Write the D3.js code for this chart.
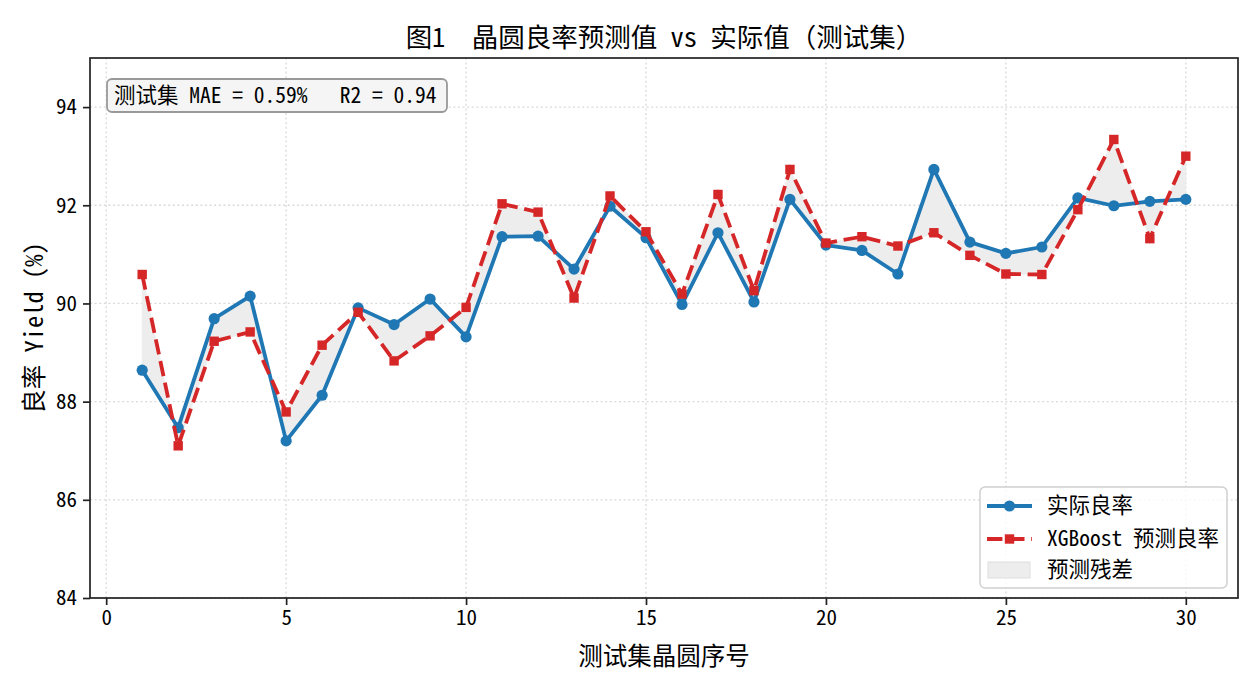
<!DOCTYPE html>
<html lang="zh">
<head>
<meta charset="utf-8">
<script src="https://cdn.jsdelivr.net/npm/d3@7"></script>
<style>
    body { margin: 0; background: #fff; }
    svg text {
        font-family: "Noto Sans Mono CJK SC", "DejaVu Sans Mono", "Noto Sans CJK SC", sans-serif;
        fill: #000;
        white-space: pre;
    }
    .grid line { stroke: #d9d9d9; stroke-width: 1.3; stroke-dasharray: 2,2.6; }
    .axis path, .axis line { stroke: #222; stroke-width: 1.7; }
    .axis text { font-size: 21px; }
</style>
</head>
<body>
<div id="chart"></div>
<script>

    // test set wafer index
    var wafers = d3.range(1, 31);
    // actual yield (%)
    var actualYield = [88.64, 87.47, 89.69, 90.15, 87.20, 88.13, 89.91, 89.57, 90.09, 89.32,
                       91.36, 91.37, 90.70, 91.98, 91.34, 89.98, 91.44, 90.03, 92.12, 91.19,
                       91.08, 90.60, 92.73, 91.25, 91.02, 91.15, 92.15, 91.99, 92.08, 92.12];
    // XGBoost predicted yield (%)
    var predYield = [90.59, 87.10, 89.23, 89.42, 87.79, 89.15, 89.82, 88.83, 89.34, 89.92,
                     92.03, 91.86, 90.11, 92.19, 91.46, 90.19, 92.22, 90.26, 92.73, 91.23,
                     91.36, 91.17, 91.44, 90.98, 90.60, 90.59, 91.91, 93.34, 91.32, 93.00];
    var xTicks = [0, 5, 10, 15, 20, 25, 30];
    var yTicks = [84, 86, 88, 90, 92, 94];
    var legendLabels = ["实际良率", "XGBoost 预测良率", "预测残差"];

    var W = 1260, H = 690;
    var margin = {top: 58, right: 22, bottom: 92, left: 90};
    var blue = "#1f77b4", red = "#d62728";

    var data = wafers.map(function (d, i) {
        return {i: d, actual: actualYield[i], pred: predYield[i]};
    });

    var svg = d3.select("#chart").append("svg")
        .attr("width", W)
        .attr("height", H);

    var x = d3.scaleLinear()
        .domain([-0.45, 31.45])
        .range([margin.left, W - margin.right]);

    var y = d3.scaleLinear()
        .domain([84, 95])
        .range([H - margin.bottom, margin.top]);

    // grid
    var grid = svg.append("g").attr("class", "grid");
    grid.selectAll(".gx").data(xTicks).enter().append("line")
        .attr("x1", function (d) { return x(d); })
        .attr("x2", function (d) { return x(d); })
        .attr("y1", y.range()[0])
        .attr("y2", y.range()[1]);
    grid.selectAll(".gy").data(yTicks).enter().append("line")
        .attr("x1", x.range()[0])
        .attr("x2", x.range()[1])
        .attr("y1", function (d) { return y(d); })
        .attr("y2", function (d) { return y(d); });

    // residual band
    var area = d3.area()
        .x(function (d) { return x(d.i); })
        .y0(function (d) { return y(d.actual); })
        .y1(function (d) { return y(d.pred); });

    svg.append("path")
        .datum(data)
        .attr("d", area)
        .attr("fill", "#ededed")
        .attr("stroke", "#ededed")
        .attr("stroke-width", 0.8);

    // actual line
    var lineActual = d3.line()
        .x(function (d) { return x(d.i); })
        .y(function (d) { return y(d.actual); });

    svg.append("path")
        .datum(data)
        .attr("d", lineActual)
        .attr("fill", "none")
        .attr("stroke", blue)
        .attr("stroke-width", 3.8)
        .attr("stroke-linejoin", "round");

    svg.selectAll(".dot")
        .data(data)
        .enter().append("circle")
        .attr("class", "dot")
        .attr("cx", function (d) { return x(d.i); })
        .attr("cy", function (d) { return y(d.actual); })
        .attr("r", 5.6)
        .attr("fill", blue);

    // predicted line
    var linePred = d3.line()
        .x(function (d) { return x(d.i); })
        .y(function (d) { return y(d.pred); });

    svg.append("path")
        .datum(data)
        .attr("d", linePred)
        .attr("fill", "none")
        .attr("stroke", red)
        .attr("stroke-width", 3.8)
        .attr("stroke-dasharray", "15.4,6.7");

    var sq = 9.4;
    svg.selectAll(".sq")
        .data(data)
        .enter().append("rect")
        .attr("class", "sq")
        .attr("x", function (d) { return x(d.i) - sq / 2; })
        .attr("y", function (d) { return y(d.pred) - sq / 2; })
        .attr("width", sq)
        .attr("height", sq)
        .attr("fill", red);

    // axes
    var xAxis = d3.axisBottom(x).tickValues(xTicks).tickSizeOuter(0).tickSize(7).tickPadding(5);
    var yAxis = d3.axisLeft(y).tickValues(yTicks).tickSizeOuter(0).tickSize(7).tickPadding(6);

    svg.append("g")
        .attr("class", "axis x")
        .attr("transform", "translate(0," + y.range()[0] + ")")
        .call(xAxis)
        .select(".domain").remove();

    svg.append("g")
        .attr("class", "axis y")
        .attr("transform", "translate(" + x.range()[0] + ",0)")
        .call(yAxis)
        .select(".domain").remove();

    // frame
    svg.append("rect")
        .attr("x", x.range()[0])
        .attr("y", y.range()[1])
        .attr("width", x.range()[1] - x.range()[0])
        .attr("height", y.range()[0] - y.range()[1])
        .attr("fill", "none")
        .attr("stroke", "#222")
        .attr("stroke-width", 1.7);

    // title and labels
    svg.append("text")
        .attr("x", (x.range()[0] + x.range()[1]) / 2)
        .attr("y", 47)
        .attr("text-anchor", "middle")
        .style("font-size", "26.5px")
        .text("图1  晶圆良率预测值 vs 实际值（测试集）");

    svg.append("text")
        .attr("x", (x.range()[0] + x.range()[1]) / 2)
        .attr("y", 665)
        .attr("text-anchor", "middle")
        .style("font-size", "24.5px")
        .text("测试集晶圆序号");

    svg.append("text")
        .attr("transform", "translate(43," + (y.range()[0] + y.range()[1]) / 2 + ") rotate(-90)")
        .attr("text-anchor", "middle")
        .style("font-size", "24.5px")
        .text("良率 Yield (%)");

    // metrics box
    var info = svg.append("g").attr("transform", "translate(107,79)");
    info.append("rect")
        .attr("width", 340)
        .attr("height", 33)
        .attr("rx", 5)
        .attr("fill", "#f5f5f5")
        .attr("stroke", "#999")
        .attr("stroke-width", 1.8);
    info.append("text")
        .attr("x", 7)
        .attr("y", 24)
        .style("font-size", "21.5px")
        .text("测试集 MAE = 0.59%   R2 = 0.94");

    // legend
    var lg = svg.append("g").attr("transform", "translate(980,487)");
    lg.append("rect")
        .attr("width", 247)
        .attr("height", 101)
        .attr("rx", 5)
        .attr("fill", "#fff")
        .attr("fill-opacity", 0.8)
        .attr("stroke", "#d0d0d0")
        .attr("stroke-width", 1.5);

    var rowY = [19, 52, 83];
    lg.append("line")
        .attr("x1", 7).attr("x2", 52)
        .attr("y1", rowY[0]).attr("y2", rowY[0])
        .attr("stroke", blue).attr("stroke-width", 3.8);
    lg.append("circle")
        .attr("cx", 29.5).attr("cy", rowY[0]).attr("r", 5.6)
        .attr("fill", blue);

    lg.append("line")
        .attr("x1", 7).attr("x2", 52)
        .attr("y1", rowY[1]).attr("y2", rowY[1])
        .attr("stroke", red).attr("stroke-width", 3.8)
        .attr("stroke-dasharray", "15.4,6.7");
    lg.append("rect")
        .attr("x", 29.5 - sq / 2).attr("y", rowY[1] - sq / 2)
        .attr("width", sq).attr("height", sq)
        .attr("fill", red);

    lg.append("rect")
        .attr("x", 8).attr("y", rowY[2] - 8)
        .attr("width", 42).attr("height", 16)
        .attr("fill", "#ededed")
        .attr("stroke", "#dedede")
        .attr("stroke-width", 1);

    lg.selectAll(".lt")
        .data(legendLabels)
        .enter().append("text")
        .attr("class", "lt")
        .attr("x", 67)
        .attr("y", function (d, i) { return rowY[i] + 7; })
        .style("font-size", "21.5px")
        .text(function (d) { return d; });

</script>
</body>
</html>
